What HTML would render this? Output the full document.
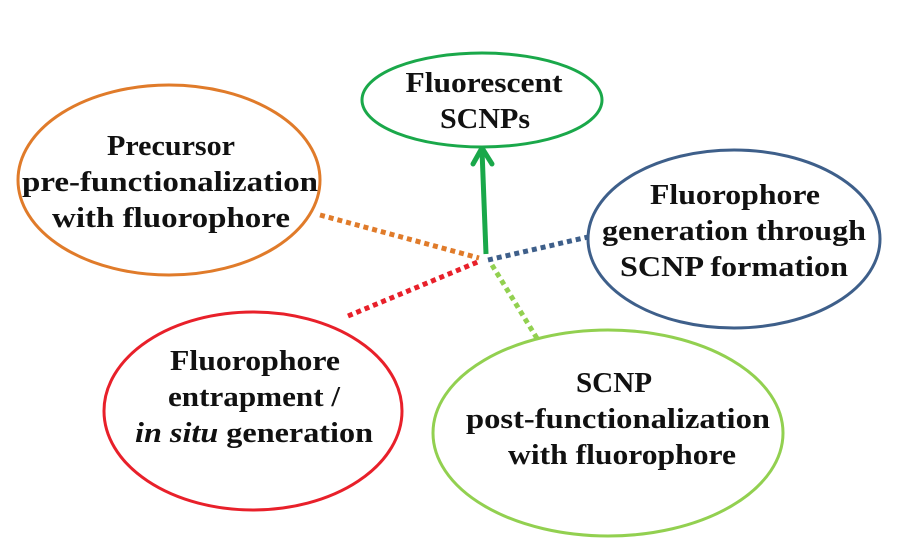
<!DOCTYPE html>
<html><head><style>
html,body{margin:0;padding:0;background:#fff}
svg text{font-family:"Liberation Serif",serif;font-weight:bold;font-size:28px;fill:#111;text-anchor:middle}
</style></head><body>
<svg width="904" height="553" viewBox="0 0 904 553" xmlns="http://www.w3.org/2000/svg">
<g fill="none" stroke-width="3">
<ellipse cx="482" cy="100" rx="120" ry="47" stroke="#1aa84a"/>
<ellipse cx="169" cy="180" rx="151" ry="95" stroke="#e07b2a"/>
<ellipse cx="734" cy="239" rx="146" ry="89" stroke="#3e5f8a"/>
<ellipse cx="253" cy="411" rx="149" ry="99" stroke="#e8202a"/>
<ellipse cx="608" cy="433" rx="175" ry="103" stroke="#92d050"/>
</g>
<g stroke-width="5" stroke-dasharray="5 4" fill="none">
<line x1="320" y1="215" x2="479" y2="258" stroke="#e07b2a"/>
<line x1="488" y1="260" x2="588" y2="237" stroke="#3e5f8a"/>
<line x1="348" y1="316" x2="480" y2="261" stroke="#e8202a"/>
<line x1="492" y1="265" x2="538" y2="340" stroke="#92d050"/>
</g>
<line x1="486" y1="254" x2="482" y2="150" stroke="#1aa84a" stroke-width="5"/>
<polyline points="473,164 482,148 492,164" fill="none" stroke="#1aa84a" stroke-width="5" stroke-linecap="round" stroke-linejoin="round"/>
<g lengthAdjust="spacingAndGlyphs">
<text x="484" y="92" textLength="157" lengthAdjust="spacingAndGlyphs">Fluorescent</text>
<text x="485" y="128" textLength="90" lengthAdjust="spacingAndGlyphs">SCNPs</text>
<text x="171" y="155" textLength="128" lengthAdjust="spacingAndGlyphs">Precursor</text>
<text x="170" y="191" textLength="296" lengthAdjust="spacingAndGlyphs">pre-functionalization</text>
<text x="171" y="227" textLength="238" lengthAdjust="spacingAndGlyphs">with fluorophore</text>
<text x="735" y="204" textLength="170" lengthAdjust="spacingAndGlyphs">Fluorophore</text>
<text x="734" y="240" textLength="264" lengthAdjust="spacingAndGlyphs">generation through</text>
<text x="734" y="276" textLength="228" lengthAdjust="spacingAndGlyphs">SCNP formation</text>
<text x="255" y="370" textLength="170" lengthAdjust="spacingAndGlyphs">Fluorophore</text>
<text x="254" y="406" textLength="172" lengthAdjust="spacingAndGlyphs">entrapment /</text>
<text x="254" y="442" textLength="238" lengthAdjust="spacingAndGlyphs"><tspan font-style="italic">in situ</tspan> generation</text>
<text x="614" y="392" textLength="76" lengthAdjust="spacingAndGlyphs">SCNP</text>
<text x="618" y="428" textLength="304" lengthAdjust="spacingAndGlyphs">post-functionalization</text>
<text x="622" y="464" textLength="228" lengthAdjust="spacingAndGlyphs">with fluorophore</text>
</g>
</svg>
</body></html>
